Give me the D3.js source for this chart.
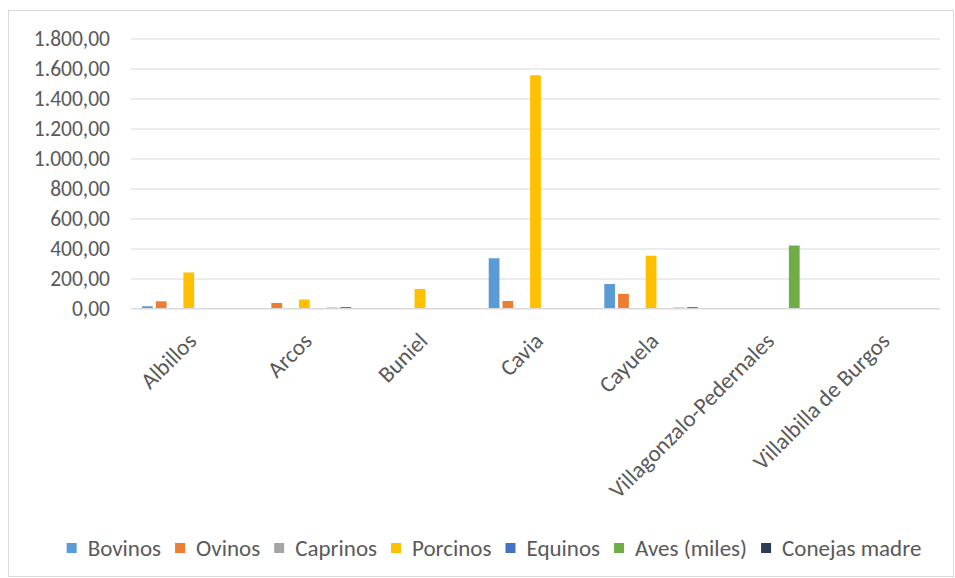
<!DOCTYPE html>
<html>
<head>
<meta charset="utf-8">
<script src="https://cdn.jsdelivr.net/npm/d3@7"></script>
<style>
  html, body { margin: 0; padding: 0; background: #ffffff; }
  svg { display: block; }
  text { font-family: Carlito, Calibri, Lato, sans-serif; fill: #595959; }
</style>
</head>
<body>
<svg id="chart" width="955" height="578"></svg>
<script>
// Municipios
const categories = ["Albillos", "Arcos", "Buniel", "Cavia", "Cayuela", "Villagonzalo-Pedernales", "Villalbilla de Burgos"];

// Cabezas de ganado por especie y municipio
const seriesNames = ["Bovinos", "Ovinos", "Caprinos", "Porcinos", "Equinos", "Aves (miles)", "Conejas madre"];
const bovinos  = [15, 0, 0, 335, 163, 0, 0];
const ovinos   = [48, 37, 0, 50, 97, 0, 0];
const caprinos = [0, 0, 0, 0, 0, 0, 0];
const porcinos = [240, 60, 130, 1555, 352, 0, 0];
const equinos  = [0, 0, 0, 0, 0, 0, 0];
const aves     = [0, 6, 0, 0, 6, 420, 0];
const conejas  = [0, 8, 0, 0, 8, 0, 0];
const seriesColors = ["#5B9BD5", "#ED7D31", "#A5A5A5", "#FFC000", "#4472C4", "#70AD47", "#2E3B55"];

const yTicks = [0, 200, 400, 600, 800, 1000, 1200, 1400, 1600, 1800];

const seriesValues = [bovinos, ovinos, caprinos, porcinos, equinos, aves, conejas];

const svg = d3.select("#chart");

// Chart frame
svg.append("rect")
  .attr("x", 8.5).attr("y", 10.5)
  .attr("width", 945).attr("height", 566)
  .attr("fill", "#ffffff")
  .attr("stroke", "#d9d9d9")
  .attr("stroke-width", 1);

const plot = { left: 131, right: 940, top: 38.5, bottom: 308.5 };

const x = d3.scaleBand().domain(categories).range([plot.left, plot.right]).paddingInner(0).paddingOuter(0);
const xs = d3.scaleBand().domain(seriesNames).range([11, x.bandwidth() - 11]).paddingInner(0.22);
const y = d3.scaleLinear().domain([0, 1800]).range([plot.bottom, plot.top]);

const esLocale = d3.formatLocale({ decimal: ",", thousands: ".", grouping: [3], currency: ["", " €"] });
const fmt = esLocale.format(",.2f");

// Horizontal gridlines and value labels
const yAxis = d3.axisLeft(y).tickValues(yTicks).tickFormat(fmt).tickSize(-(plot.right - plot.left)).tickPadding(21);
const gy = svg.append("g").attr("transform", `translate(${plot.left},0)`).call(yAxis);
gy.select(".domain").remove();
gy.selectAll(".tick line").attr("stroke", "#d9d9d9").attr("stroke-width", 1);
gy.selectAll(".tick text").attr("font-size", 21.5).attr("fill", "#595959")
  .style("font-family", "Carlito, Calibri, Lato, sans-serif");

// Bars
const rows = [];
seriesNames.forEach((s, si) => {
  categories.forEach((c, ci) => {
    rows.push({ series: s, cat: c, value: seriesValues[si][ci], color: seriesColors[si] });
  });
});

svg.append("g").selectAll("rect")
  .data(rows.filter(d => d.value > 0))
  .join("rect")
  .attr("x", d => x(d.cat) + xs(d.series))
  .attr("width", xs.bandwidth())
  .attr("y", d => y(d.value))
  .attr("height", d => y(0) - y(d.value))
  .attr("fill", d => d.color);

// Category axis line
svg.append("line")
  .attr("x1", plot.left).attr("x2", plot.right)
  .attr("y1", y(0)).attr("y2", y(0))
  .attr("stroke", "#d9d9d9");

// Rotated category labels
svg.append("g").selectAll("text")
  .data(categories)
  .join("text")
  .attr("transform", d => `translate(${x(d) + x.bandwidth() / 2 + 9},${plot.bottom + 34}) rotate(-45)`)
  .attr("text-anchor", "end")
  .attr("font-size", 23)
  .text(d => d);

// Legend
const legend = svg.append("g");
const items = legend.selectAll("g").data(seriesNames).join("g");
items.append("rect").attr("width", 10).attr("height", 10).attr("y", -13)
  .attr("fill", (d, i) => seriesColors[i]);
items.append("text").attr("x", 21).attr("font-size", 23).text(d => d);
let offset = 0;
const widths = [];
items.each(function () {
  const w = 21 + this.querySelector("text").getComputedTextLength();
  widths.push(w);
});
const gap = 14;
const total = d3.sum(widths) + gap * (widths.length - 1);
const startX = 494 - total / 2;
items.attr("transform", (d, i) => {
  const tx = startX + offset;
  offset += widths[i] + gap;
  return `translate(${tx},556)`;
});
</script>
</body>
</html>
